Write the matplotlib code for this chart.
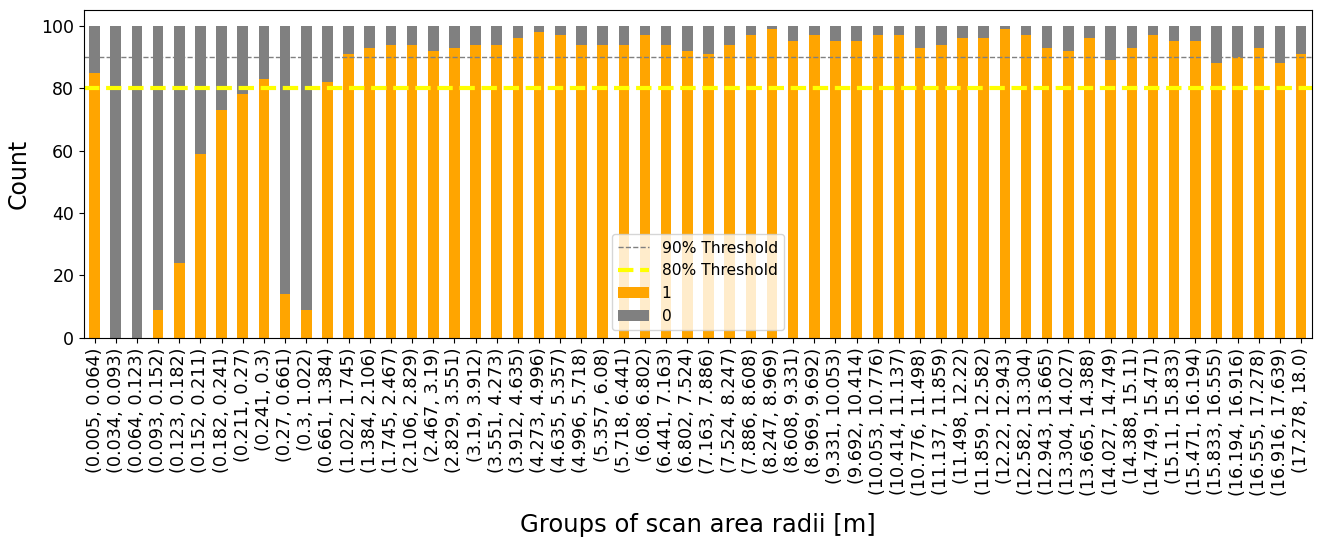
import matplotlib
matplotlib.use("Agg")
import matplotlib.pyplot as plt
import numpy as np

categories = [
    "(0.005, 0.064)", "(0.034, 0.093)", "(0.064, 0.123)", "(0.093, 0.152)", "(0.123, 0.182)",
    "(0.152, 0.211)", "(0.182, 0.241)", "(0.211, 0.27)", "(0.241, 0.3)", "(0.27, 0.661)",
    "(0.3, 1.022)", "(0.661, 1.384)", "(1.022, 1.745)", "(1.384, 2.106)", "(1.745, 2.467)",
    "(2.106, 2.829)", "(2.467, 3.19)", "(2.829, 3.551)", "(3.19, 3.912)", "(3.551, 4.273)",
    "(3.912, 4.635)", "(4.273, 4.996)", "(4.635, 5.357)", "(4.996, 5.718)", "(5.357, 6.08)",
    "(5.718, 6.441)", "(6.08, 6.802)", "(6.441, 7.163)", "(6.802, 7.524)", "(7.163, 7.886)",
    "(7.524, 8.247)", "(7.886, 8.608)", "(8.247, 8.969)", "(8.608, 9.331)", "(8.969, 9.692)",
    "(9.331, 10.053)", "(9.692, 10.414)", "(10.053, 10.776)", "(10.414, 11.137)", "(10.776, 11.498)",
    "(11.137, 11.859)", "(11.498, 12.22)", "(11.859, 12.582)", "(12.22, 12.943)", "(12.582, 13.304)",
    "(12.943, 13.665)", "(13.304, 14.027)", "(13.665, 14.388)", "(14.027, 14.749)", "(14.388, 15.11)",
    "(14.749, 15.471)", "(15.11, 15.833)", "(15.471, 16.194)", "(15.833, 16.555)", "(16.194, 16.916)",
    "(16.555, 17.278)", "(16.916, 17.639)", "(17.278, 18.0)",
]

ones = [
    85, 0, 0, 9, 24, 59, 73, 78, 83, 14,
    9, 82, 91, 93, 94, 94, 92, 93, 94, 94,
    96, 98, 97, 94, 94, 94, 97, 94, 92, 91,
    94, 97, 99, 95, 97, 95, 95, 97, 97, 93,
    94, 96, 96, 99, 97, 93, 92, 96, 89, 93,
    97, 95, 95, 88, 90, 93, 88, 91,
]
zeros = [100 - v for v in ones]

threshold_90 = 90
threshold_80 = 80

fig = plt.figure(figsize=(13.17, 5.38), dpi=100)
ax = fig.add_axes([0.0638, 0.372, 0.9322, 0.609])

x = np.arange(len(categories))
ax.axhline(threshold_90, color="gray", linestyle="--", linewidth=1, label="90% Threshold")
ax.axhline(threshold_80, color="yellow", linestyle="--", linewidth=3, label="80% Threshold")
ax.bar(x, ones, width=0.5, color="orange", label="1")
ax.bar(x, zeros, width=0.5, bottom=ones, color="gray", label="0")

ax.set_xlim(-0.5, len(categories) - 0.5)
ax.set_ylim(0, 105)
ax.set_xticks(x)
ax.set_xticklabels(categories, rotation=90, fontsize=12.7)
ax.tick_params(axis="y", labelsize=12.5)
ax.set_xlabel("Groups of scan area radii [m]", fontsize=17.5, labelpad=12)
ax.set_ylabel("Count", fontsize=17, labelpad=8)
ax.legend(loc="lower center", fontsize=11.2)

fig.savefig("out.png", dpi=100)
